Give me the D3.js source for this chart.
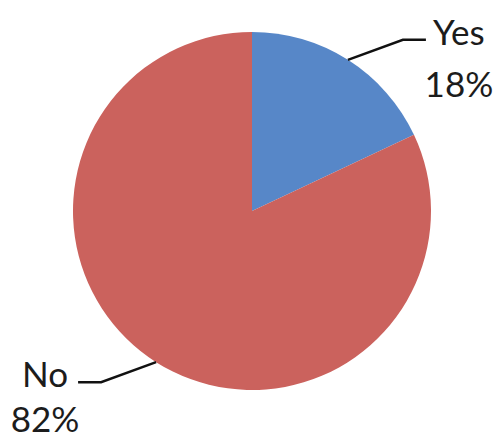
<!DOCTYPE html>
<html>
<head>
<meta charset="utf-8">
<script src="https://cdn.jsdelivr.net/npm/d3@7"></script>
<style>
  html, body { margin: 0; padding: 0; background: #fff; overflow: hidden; }
  svg { display: block; }
  .lbl { font-family: Lato, "Open Sans", sans-serif; font-size: 35px; fill: #1c1c1c; }
</style>
</head>
<body>
<div id="chart"></div>
<script>
// data
const categories = ['Yes', 'No'];
const values = [18, 82];
const colors = ['#5787c8', '#cb625d'];

const width = 503, height = 436;
const cx = 252, cy = 211, radius = 179;

const svg = d3.select('#chart').append('svg')
  .attr('width', width)
  .attr('height', height);

const g = svg.append('g').attr('transform', `translate(${cx},${cy})`);

// pie layout, keeping original order (clockwise from 12 o'clock)
const pieData = d3.pie().sort(null)(values)
  .map((p, i) => Object.assign(p, { name: categories[i] }));

const arc = d3.arc().innerRadius(0).outerRadius(radius);

// slices
g.selectAll('path.slice')
  .data(pieData)
  .join('path')
  .attr('class', 'slice')
  .attr('d', arc)
  .attr('fill', (d, i) => colors[i]);

// leader lines + labels
pieData.forEach(d => {
  const mid = (d.startAngle + d.endAngle) / 2;
  const start = [radius * Math.sin(mid), -radius * Math.cos(mid)];
  const side = Math.sin(mid) >= 0 ? 1 : -1;
  const elbow = [start[0] + side * 55, start[1] - side * 20];
  const end = [elbow[0] + side * 23, elbow[1]];

  g.append('polyline')
    .attr('points', [start, elbow, end].map(p => p.join(',')).join(' '))
    .attr('fill', 'none')
    .attr('stroke', '#111')
    .attr('stroke-width', 2.5);

  const tx = end[0] + side * 33;
  g.append('text')
    .attr('class', 'lbl')
    .attr('x', tx)
    .attr('y', end[1] + 5)
    .attr('text-anchor', 'middle')
    .text(d.name);

  // bottom label kept a little higher so it stays inside the frame
  g.append('text')
    .attr('class', 'lbl')
    .attr('x', tx)
    .attr('y', end[1] + (side > 0 ? 57 : 50))
    .attr('text-anchor', 'middle')
    .text(d.value + '%');
});
</script>
</body>
</html>
